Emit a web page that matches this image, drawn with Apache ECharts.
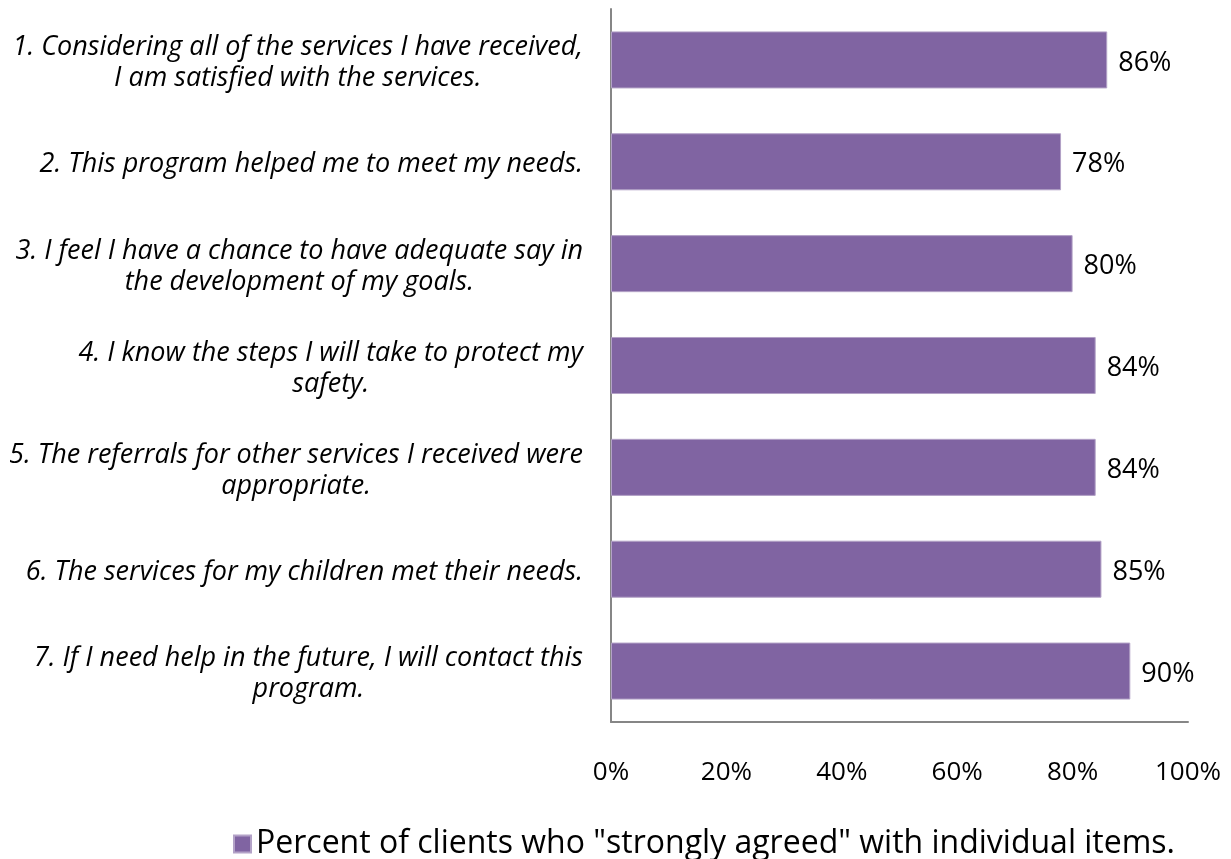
<!DOCTYPE html>
<html>
<head>
<meta charset="utf-8">
<script src="https://cdn.jsdelivr.net/npm/echarts@6/dist/echarts.min.js"></script>
<style>
  html, body { margin: 0; padding: 0; background: #fff; }
  #chart { width: 1231px; height: 859px; }
</style>
</head>
<body>
<div id="chart"></div>
<script>
// Survey items, each split into its display lines
const items = [
  ['1. Considering all of the services I have received,', 'I am satisfied with the services.'],
  ['2. This program helped me to meet my needs.'],
  ['3. I feel I have a chance to have adequate say in', 'the development of my goals.'],
  ['4. I know the steps I will take to protect my', 'safety.'],
  ['5. The referrals for other services I received were', 'appropriate.'],
  ['6. The services for my children met their needs.'],
  ['7. If I need help in the future, I will contact this', 'program.']
];
// Share of clients who strongly agreed (fraction of 1)
const agreed = [0.86, 0.78, 0.80, 0.84, 0.84, 0.85, 0.90];
const seriesName = 'Percent of clients who "strongly agreed" with individual items.';

const FONT = '"Open Sans", sans-serif';
const categories = items.map(lines => lines.join('\n'));

const chart = echarts.init(document.getElementById('chart'), null, { renderer: 'canvas' });
chart.setOption({
  animation: false,
  textStyle: { fontFamily: FONT },
  grid: { left: 611, right: 43, top: 9, bottom: 137, containLabel: false },
  legend: {
    top: 828,
    left: 233,
    padding: [0, 0, 0, 0],
    itemWidth: 17,
    itemHeight: 17,
    itemGap: 7,
    icon: 'rect',
    textStyle: { fontSize: 32, color: '#000', fontFamily: FONT },
    data: [seriesName]
  },
  xAxis: {
    type: 'value',
    min: 0,
    max: 1,
    interval: 0.2,
    axisLine: { show: true, lineStyle: { color: '#868686', width: 2 } },
    axisTick: { show: false },
    splitLine: { show: false },
    axisLabel: {
      margin: 38,
      fontSize: 26,
      color: '#000',
      fontFamily: FONT,
      formatter: v => Math.round(v * 100) + '%'
    }
  },
  yAxis: {
    type: 'category',
    inverse: true,
    data: categories,
    axisLine: { show: true, lineStyle: { color: '#868686', width: 2 } },
    axisTick: { show: false },
    axisLabel: {
      margin: 28,
      align: 'right',
      padding: [6, 0, 0, 0],
      formatter: v => v.split('\n').map(l => '{c|' + l + '}').join('\n'),
      rich: {
        c: {
          align: 'center',
          fontSize: 27,
          fontStyle: 'italic',
          color: '#000',
          fontFamily: FONT,
          lineHeight: 31
        }
      }
    }
  },
  series: [{
    name: seriesName,
    type: 'bar',
    data: agreed,
    barCategoryGap: '44%',
    itemStyle: { color: '#8064A2', borderColor: '#B3A2C7', borderWidth: 1 },
    label: {
      show: true,
      position: 'right',
      distance: 11,
      offset: [0, 3],
      fontSize: 27,
      color: '#000',
      fontFamily: FONT,
      formatter: p => Math.round(p.value * 100) + '%'
    }
  }]
});
</script>
</body>
</html>
